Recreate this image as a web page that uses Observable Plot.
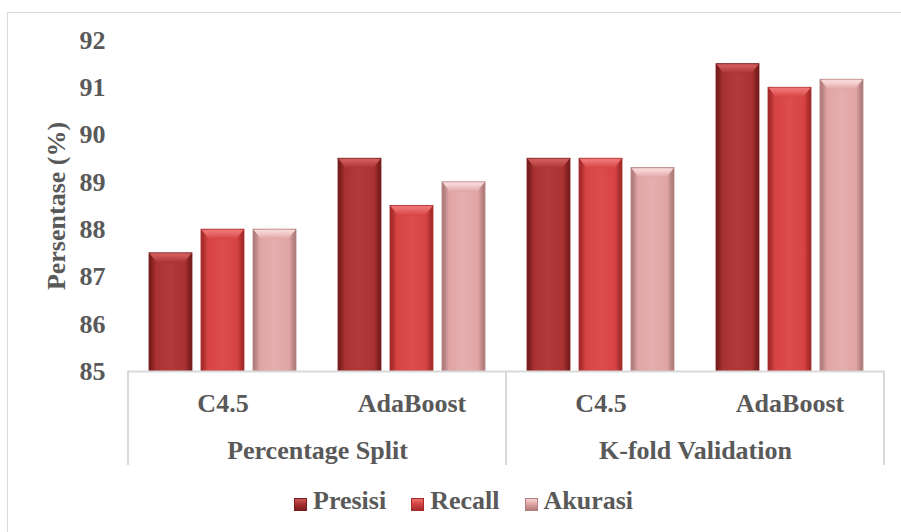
<!DOCTYPE html>
<html>
<head>
<meta charset="utf-8">
<script src="https://cdn.jsdelivr.net/npm/d3@7"></script>
<script src="https://cdn.jsdelivr.net/npm/@observablehq/plot@0.6"></script>
<style>
  html, body { margin: 0; padding: 0; background: #fff; overflow: hidden; }
  #wrap { position: relative; width: 901px; height: 532px; overflow: hidden; }
  #border { position: absolute; left: 7px; top: 12px; width: 1000px; height: 1000px; border: 1px solid #d9d9d9; }
  #chart { position: absolute; left: 0; top: 0; }
  #legend { position: absolute; left: 294px; top: 485px; height: 32px; display: flex; align-items: center;
    font-family: "Liberation Serif", serif; font-weight: bold; font-size: 26px; color: #595959; white-space: nowrap; }
  .item { display: flex; align-items: center; margin-right: 25px; }
  .sw { width: 13px; height: 13px; margin-right: 6px; box-sizing: border-box; position: relative; top: 3px; }
</style>
</head>
<body>
<div id="wrap">
  <div id="border"></div>
  <div id="chart"></div>
  <div id="legend"></div>
</div>
<script>
// ---- data ----
const groups = ["Percentage Split", "Percentage Split", "K-fold Validation", "K-fold Validation"];
const methods = ["C4.5", "AdaBoost", "C4.5", "AdaBoost"];
const series = ["Presisi", "Recall", "Akurasi"];
const presisi = [87.5, 89.5, 89.5, 91.5];
const recall = [88, 88.5, 89.5, 91];
const akurasi = [88, 89, 89.3, 91.17];
const yTicks = [85, 86, 87, 88, 89, 90, 91, 92];
const yLabel = "Persentase (%)";

// ---- styles ----
const pal = {
  Presisi: {base: "#a83131", edge: "#7a1d1d", hi: "#cf5a5a", lo: "#b33a3a"},
  Recall:  {base: "#d64343", edge: "#a62b2b", hi: "#ee7272", lo: "#dc4d4d"},
  Akurasi: {base: "#e0a4a4", edge: "#b17d7d", hi: "#f7d6d6", lo: "#e6afaf"}
};
const gid = s => "grad-" + s;

const valuesBySeries = {Presisi: presisi, Recall: recall, Akurasi: akurasi};
const table = [];
groups.forEach((g, i) => series.forEach(s => table.push({facet: i, group: g, method: methods[i], series: s, value: valuesBySeries[s][i]})));
const facets = groups.map((g, i) => i);
const firstOfGroup = facets.filter(i => i === 0 || groups[i] !== groups[i - 1]);

const textColor = "#595959";

const plot = Plot.plot({
  width: 901,
  height: 532,
  marginLeft: 128,
  marginRight: 17,
  marginTop: 40,
  marginBottom: 161,
  style: {fontFamily: "Liberation Serif", fontWeight: "bold", fontSize: "26px", color: textColor, background: "transparent"},
  fx: {domain: facets, padding: 0, axis: null},
  x: {domain: series, paddingInner: 0.18, paddingOuter: 0.39, axis: null},
  y: {domain: [yTicks[0], yTicks[yTicks.length - 1]], axis: null},
  color: {domain: series, range: series.map(s => `url(#${gid(s)})`)},
  marks: [
    Plot.axisY(yTicks, {tickSize: 0, tickPadding: 23, fontSize: 26, fontWeight: "bold", fill: textColor, label: null}),
    Plot.barY(table, {fx: "facet", x: "series", y1: yTicks[0], y2: "value", fill: "series", stroke: d => pal[d.series].edge, strokeWidth: 0.8}),
    Plot.ruleY([yTicks[0]], {stroke: "#d9d9d9", strokeWidth: 2}),
    Plot.text(facets, {fx: d => d, text: d => methods[d], frameAnchor: "bottom", lineAnchor: "middle", dy: 32, fontSize: 26, fontWeight: "bold", fill: textColor}),
    Plot.text(firstOfGroup, {fx: d => d, text: d => groups[d], frameAnchor: "bottom-right", textAnchor: "middle", lineAnchor: "middle", dy: 79, fontSize: 26, fontWeight: "bold", fill: textColor}),
    Plot.text([0], {fx: d => d, text: () => yLabel, frameAnchor: "left", textAnchor: "middle", lineAnchor: "middle", rotate: -90, dx: -72, fontSize: 26, fontWeight: "bold", fill: textColor})
  ]
});
document.getElementById("chart").appendChild(plot);

// ---- gradients (bevel look) ----
const svg = d3.select(plot);
const defs = svg.insert("defs", ":first-child");
series.forEach(s => {
  const p = pal[s];
  const g = defs.append("linearGradient").attr("id", gid(s)).attr("x1", 0).attr("x2", 1).attr("y1", 0).attr("y2", 0);
  [[0, p.edge], [0.04, p.edge], [0.16, p.base], [0.5, p.lo], [0.84, p.base], [0.96, p.edge], [1, p.edge]]
    .forEach(([o, c]) => g.append("stop").attr("offset", o).attr("stop-color", c));
  const t = defs.append("linearGradient").attr("id", gid(s) + "-top").attr("x1", 0).attr("x2", 0).attr("y1", 0).attr("y2", 1);
  [[0, p.hi], [0.2, p.hi], [1, p.base]].forEach(([o, c]) => t.append("stop").attr("offset", o).attr("stop-color", c));
});

// top bevel facets drawn on the bars Plot produced
svg.selectAll("g[aria-label='bar'] rect").each(function() {
  const r = d3.select(this);
  const x = +r.attr("x"), y = +r.attr("y"), w = +r.attr("width");
  const fill = r.attr("fill") || "";
  const s = series.find(k => fill.includes(gid(k) + ")"));
  if (!s) return;
  const b = 10, sb = 8;
  d3.select(this.parentNode).append("polygon")
    .attr("points", [[x + 0.5, y + 0.5], [x + w - 0.5, y + 0.5], [x + w - sb, y + b], [x + sb, y + b]].map(p => p.join(",")).join(" "))
    .attr("fill", `url(#${gid(s)}-top)`);
});

// divider lines under the category axis, from the facet scale
const fx = plot.scale("fx");
const yS = plot.scale("y");
const y0 = yS.apply(yTicks[0]);
const edges = firstOfGroup.map(i => fx.apply(i)).concat([fx.apply(facets[facets.length - 1]) + fx.bandwidth]);
svg.append("g").selectAll("line").data(edges).join("line")
  .attr("x1", d => d).attr("x2", d => d).attr("y1", y0).attr("y2", y0 + 94)
  .attr("stroke", "#d9d9d9").attr("stroke-width", 2);

// legend
const leg = d3.select("#legend");
series.forEach(s => {
  const p = pal[s];
  const it = leg.append("div").attr("class", "item");
  it.append("div").attr("class", "sw")
    .style("background", `linear-gradient(180deg, ${p.hi} 0%, ${p.base} 45%, ${p.edge} 100%)`)
    .style("border", `1px solid ${p.edge}`);
  it.append("span").text(s);
});
</script>
</body>
</html>
